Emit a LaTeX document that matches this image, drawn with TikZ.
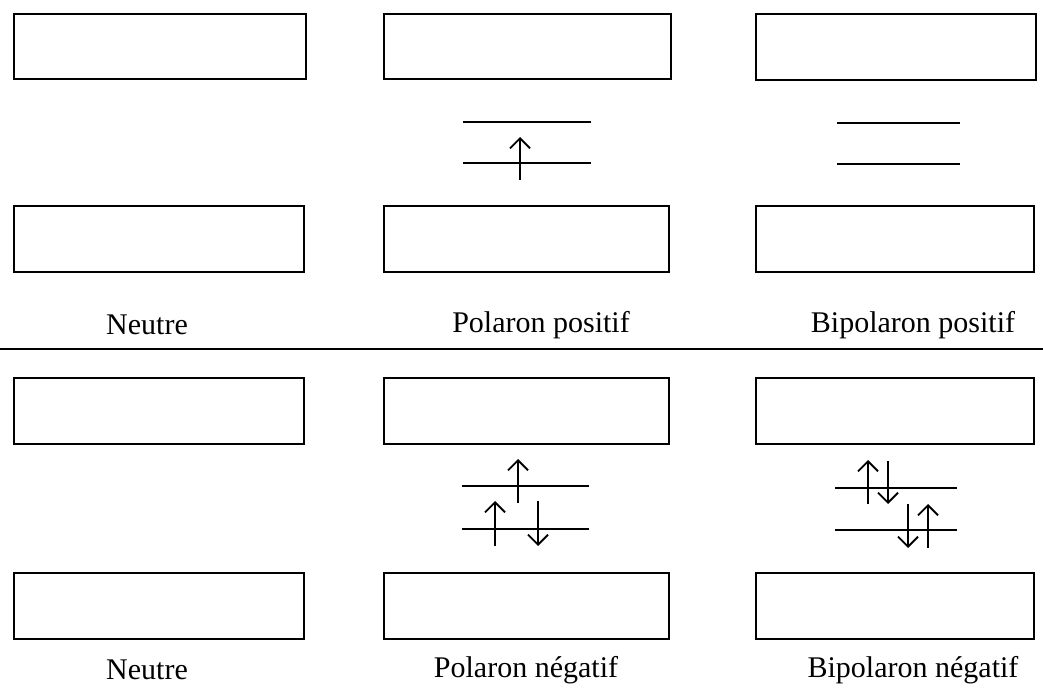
\documentclass[tikz,border=0pt]{standalone}
\usepackage{fontspec}
\setmainfont{Liberation Serif}
\usetikzlibrary{arrows.meta}
\begin{document}
\begin{tikzpicture}[x=1pt,y=-1pt,
  band/.style={draw,line width=1.6pt,rectangle,inner sep=0pt,anchor=north west,minimum height=66pt},
  lvl/.style={line width=1.8pt},
  spin/.style={line width=1.4pt,-{Straight Barb[length=10pt,width=20pt,line width=1.8pt]}},
  lab/.style={font=\fontsize{30}{32}\selectfont,inner sep=0pt}]
\useasboundingbox (0,0) rectangle (1043,690);
% top half
\node[band,minimum width=292pt,minimum height=65pt] (b11) at (13,13) {};
\node[band,minimum width=287pt,minimum height=65pt] (b12) at (383,13) {};
\node[band,minimum width=280pt,minimum height=66pt] (b13) at (755,13) {};
\node[band,minimum width=290pt] (b21) at (13,205) {};
\node[band,minimum width=285pt] (b22) at (383,205) {};
\node[band,minimum width=278pt] (b23) at (755,205) {};
\node[lab] (l1) at (147,325) {Neutre};
\node[lab] (l2) at (541,325) {Polaron positif};
\node[lab] (l3) at (913,325) {Bipolaron positif};
% polaron positif levels
\draw[lvl] (463,122) -- (591,122);
\draw[lvl] (463,163) -- (591,163);
\draw[spin] (520,180) -- (520,137);
% bipolaron positif levels
\draw[lvl] (837,123) -- (960,123);
\draw[lvl] (837,164) -- (960,164);
% separator
\draw[line width=2.6pt] (0,349) -- (1043,349);
% bottom half
\node[band,minimum width=290pt] (b31) at (13,377) {};
\node[band,minimum width=285pt] (b32) at (383,377) {};
\node[band,minimum width=278pt] (b33) at (755,377) {};
\node[band,minimum width=290pt] (b41) at (13,572) {};
\node[band,minimum width=285pt] (b42) at (383,572) {};
\node[band,minimum width=278pt] (b43) at (755,572) {};
\node[lab] (l4) at (147,670) {Neutre};
\node[lab] (l5) at (526,670) {Polaron négatif};
\node[lab] (l6) at (913,670) {Bipolaron négatif};
% polaron negatif
\draw[lvl] (462,486) -- (589,486);
\draw[lvl] (462,529) -- (589,529);
\draw[spin] (518,503) -- (518,459);
\draw[spin] (495,546) -- (495,501);
\draw[spin] (538,501) -- (538,546);
% bipolaron negatif
\draw[lvl] (835,488) -- (957,488);
\draw[lvl] (835,530) -- (957,530);
\draw[spin] (868,504) -- (868,460);
\draw[spin] (888,461) -- (888,504);
\draw[spin] (908,504) -- (908,548);
\draw[spin] (928,548) -- (928,504);
\end{tikzpicture}
\end{document}
